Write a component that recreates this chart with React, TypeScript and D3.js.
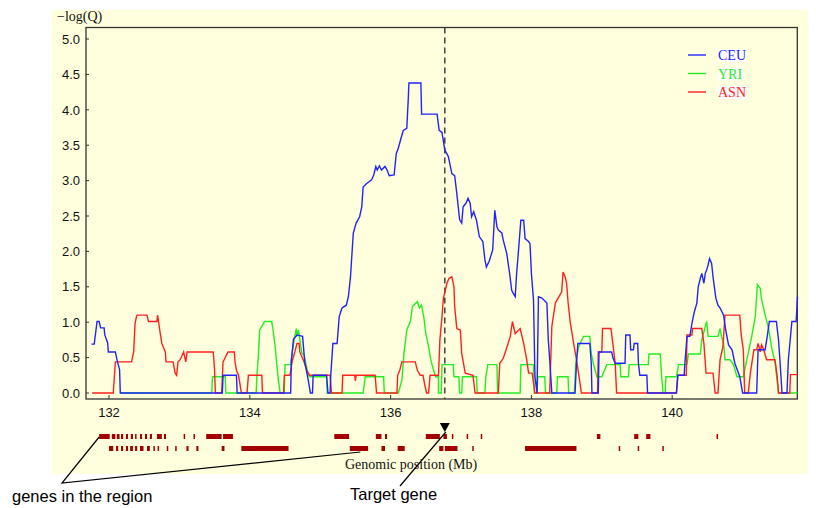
import * as d3 from 'd3';
import { useEffect, useRef } from 'react';

const WIDTH = 816;
const HEIGHT = 508;

const xTicks = [132, 134, 136, 138, 140];
const yTicks = [0, 0.5, 1, 1.5, 2, 2.5, 3, 3.5, 4, 4.5, 5];
const targetPos = 136.77;

// CEU (blue)
const ceu: [number, number][] = [
  [131.75, 0.69], [131.79, 0.69], [131.83, 1.01], [131.86, 1.01], [131.88, 0.92], [131.93, 0.92],
  [131.94, 0.82], [131.98, 0.71], [131.99, 0.58], [132.09, 0.58], [132.12, 0.44], [132.15, 0.33],
  [132.16, 0], [133.61, 0], [133.62, 0.25], [133.81, 0.25], [133.82, 0],
  [134.58, 0], [134.59, 0.45], [134.62, 0.76], [134.67, 0.82], [134.75, 0.8], [134.78, 0.44],
  [134.83, 0.18], [134.86, 0], [134.89, 0], [134.9, 0.25], [135.09, 0.25], [135.11, 0],
  [135.14, 0], [135.15, 0.25], [135.18, 0.7], [135.24, 0.7], [135.27, 1.08], [135.31, 1.2],
  [135.37, 1.24], [135.4, 1.36], [135.43, 1.64], [135.47, 2.26], [135.51, 2.4], [135.56, 2.49],
  [135.59, 2.63], [135.61, 2.91], [135.66, 2.96], [135.73, 3.01], [135.76, 3.08], [135.79, 3.2],
  [135.81, 3.15], [135.84, 3.21], [135.87, 3.15], [135.92, 3.2], [135.95, 3.15], [135.98, 3.07],
  [136.05, 3.08], [136.08, 3.38], [136.11, 3.46], [136.14, 3.57], [136.18, 3.71], [136.23, 3.74],
  [136.25, 4.14], [136.26, 4.38], [136.43, 4.38], [136.44, 3.94], [136.66, 3.94], [136.69, 3.71],
  [136.73, 3.68], [136.77, 3.43], [136.82, 3.34], [136.87, 3.1], [136.91, 3.07], [136.94, 2.82],
  [136.98, 2.45], [137.01, 2.4], [137.03, 2.63], [137.07, 2.68], [137.1, 2.75], [137.13, 2.68],
  [137.15, 2.49], [137.18, 2.56], [137.22, 2.44], [137.26, 2.21], [137.31, 2.14], [137.34, 1.88],
  [137.36, 1.78], [137.4, 1.86], [137.45, 2.02], [137.48, 2.58], [137.51, 2.35], [137.53, 2.3],
  [137.58, 2.26], [137.6, 2.16], [137.65, 1.97], [137.69, 1.69], [137.72, 1.45], [137.74, 1.41],
  [137.77, 1.36], [137.79, 1.69], [137.81, 1.93], [137.85, 2.44], [137.89, 2.44], [137.91, 2.18],
  [137.96, 2.14], [137.98, 2.11], [138.0, 1.69], [138.03, 1.31], [138.05, 0.23], [138.08, 0],
  [138.1, 1.36], [138.15, 1.34], [138.22, 1.27], [138.24, 0.75], [138.26, 0.47], [138.29, 0],
  [138.62, 0], [138.64, 0.42], [138.66, 0.7], [138.83, 0.7], [138.85, 0.42], [138.86, 0],
  [138.95, 0], [138.96, 0.58], [139.14, 0.58], [139.16, 0.49], [139.19, 0.42], [139.33, 0.42],
  [139.34, 0.82], [139.4, 0.82], [139.41, 0.61], [139.45, 0.61], [139.46, 0.7], [139.51, 0.7],
  [139.52, 0.42], [139.54, 0.25], [139.64, 0.25], [139.65, 0], [140.06, 0], [140.08, 0.25],
  [140.17, 0.25], [140.18, 0.42], [140.21, 0.8], [140.25, 0.8], [140.28, 0.98], [140.31, 1.13],
  [140.35, 1.27], [140.37, 1.5], [140.4, 1.62], [140.42, 1.69], [140.45, 1.55], [140.47, 1.69],
  [140.49, 1.74], [140.51, 1.81], [140.53, 1.9], [140.56, 1.83], [140.58, 1.64], [140.62, 1.34],
  [140.65, 1.24], [140.68, 1.2], [140.73, 1.1], [140.76, 0.89], [140.8, 0.68], [140.85, 0.61],
  [140.89, 0.42], [140.96, 0.23], [141.0, 0], [141.2, 0], [141.22, 0.61], [141.32, 0.61],
  [141.35, 0.8], [141.38, 1.01], [141.48, 1.01], [141.51, 0.75], [141.53, 0.47], [141.56, 0],
  [141.63, 0], [141.65, 0.47], [141.7, 1.01], [141.76, 1.01], [141.78, 1.36],
];

// YRI (green)
const yri: [number, number][] = [
  [132.16, 0], [133.46, 0], [133.47, 0.23], [133.65, 0.23], [133.66, 0],
  [134.09, 0], [134.1, 0.23], [134.12, 0.51], [134.14, 0.89], [134.17, 0.94], [134.21, 1.01],
  [134.31, 1.01], [134.33, 0.89], [134.36, 0.65], [134.38, 0.44], [134.4, 0.23], [134.43, 0],
  [134.49, 0], [134.5, 0.4], [134.58, 0.4], [134.6, 0.56], [134.63, 0.75], [134.66, 0.91],
  [134.67, 0.8], [134.69, 0.89], [134.74, 0.56], [134.77, 0.54], [134.8, 0.4], [134.83, 0.25],
  [134.86, 0.23], [135.09, 0.23], [135.1, 0], [135.61, 0], [135.64, 0.23], [135.9, 0.23],
  [135.91, 0], [136.11, 0], [136.16, 0.18], [136.19, 0.56], [136.23, 0.89], [136.28, 1.01],
  [136.31, 1.22], [136.38, 1.29], [136.41, 1.2], [136.44, 1.24], [136.47, 1.08], [136.5, 0.84],
  [136.54, 0.65], [136.57, 0.47], [136.61, 0.32], [136.64, 0.23], [136.68, 0.23], [136.68, 0],
  [136.72, 0], [136.73, 0.4], [136.89, 0.4], [136.9, 0.23], [136.97, 0.23], [136.98, 0],
  [137.01, 0], [137.02, 0.23], [137.22, 0.23], [137.23, 0], [137.34, 0], [137.35, 0.21],
  [137.38, 0.4], [137.51, 0.4], [137.52, 0], [137.84, 0], [137.85, 0.4], [138.03, 0.4],
  [138.04, 0], [138.08, 0], [138.09, 0.23], [138.19, 0.23], [138.2, 0], [138.36, 0],
  [138.37, 0.23], [138.52, 0.23], [138.53, 0], [138.61, 0], [138.63, 0.42], [138.67, 0.65],
  [138.74, 0.8], [138.83, 0.8], [138.85, 0.56], [138.88, 0.42], [138.93, 0.23], [139.0, 0.23],
  [139.07, 0.4], [139.26, 0.4], [139.27, 0.23], [139.38, 0.23], [139.39, 0.4], [139.66, 0.4],
  [139.67, 0.55], [139.83, 0.55], [139.85, 0.23], [139.87, 0], [139.9, 0], [139.91, 0.23],
  [140.06, 0.23], [140.09, 0.4], [140.21, 0.4], [140.23, 0.55], [140.4, 0.55], [140.42, 0.75],
  [140.47, 0.94], [140.49, 1.01], [140.51, 0.8], [140.65, 0.8], [140.68, 0.91], [140.7, 0.8],
  [140.73, 0.7], [140.75, 0.47], [140.82, 0.47], [140.87, 0.4], [140.92, 0.23], [141.01, 0.23],
  [141.06, 0.47], [141.13, 0.8], [141.18, 1.08], [141.21, 1.53], [141.25, 1.48], [141.27, 1.32],
  [141.32, 1.1], [141.37, 0.91], [141.41, 0.65], [141.46, 0.44], [141.51, 0], [141.78, 0],
];

// ASN (red)
const asn: [number, number][] = [
  [131.76, 0], [132.06, 0], [132.09, 0.44], [132.32, 0.44], [132.35, 0.58], [132.37, 0.98],
  [132.39, 1.08], [132.4, 1.1], [132.54, 1.1], [132.56, 1.01], [132.68, 1.01], [132.69, 1.1],
  [132.72, 0.89], [132.75, 0.7], [132.8, 0.58], [132.81, 0.44], [132.91, 0.44], [132.94, 0.28],
  [132.96, 0.25], [132.98, 0.44], [133.01, 0.47], [133.06, 0.58], [133.09, 0.44], [133.11, 0.58],
  [133.48, 0.58], [133.5, 0.32], [133.51, 0], [133.6, 0], [133.62, 0.44], [133.69, 0.58],
  [133.78, 0.58], [133.79, 0.44], [133.81, 0.32], [133.84, 0.25], [133.88, 0], [133.96, 0],
  [133.98, 0.25], [134.17, 0.25], [134.18, 0], [134.48, 0], [134.49, 0.25], [134.57, 0.25],
  [134.6, 0.44], [134.64, 0.58], [134.67, 0.7], [134.7, 0.7], [134.71, 0.58], [134.77, 0.44],
  [134.81, 0.32], [134.85, 0.25], [135.14, 0.25], [135.16, 0], [135.31, 0], [135.32, 0.25],
  [135.49, 0.25], [135.5, 0.17], [135.51, 0.25], [135.78, 0.25], [135.8, 0], [136.09, 0],
  [136.1, 0.25], [136.13, 0.32], [136.16, 0.44], [136.35, 0.44], [136.38, 0.32], [136.42, 0.25],
  [136.46, 0.25], [136.49, 0.09], [136.51, 0], [136.54, 0], [136.56, 0.25], [136.68, 0.25],
  [136.7, 0.75], [136.73, 1.08], [136.75, 1.34], [136.8, 1.55], [136.83, 1.62], [136.87, 1.64],
  [136.9, 1.5], [136.91, 1.22], [136.94, 0.91], [136.99, 0.89], [137.01, 0.56], [137.06, 0.28],
  [137.17, 0.25], [137.2, 0], [137.53, 0], [137.55, 0.42], [137.6, 0.49], [137.63, 0.58],
  [137.7, 0.8], [137.73, 1.01], [137.77, 0.84], [137.84, 0.91], [137.89, 0.7], [137.93, 0.49],
  [137.96, 0.28], [138.01, 0.28], [138.05, 0], [138.26, 0], [138.29, 0.94], [138.34, 1.27],
  [138.43, 1.43], [138.45, 1.71], [138.48, 1.64], [138.5, 1.55], [138.52, 1.29], [138.55, 1.01],
  [138.6, 0.7], [138.64, 0.47], [138.69, 0.14], [138.71, 0], [138.94, 0], [138.95, 0.58],
  [139.0, 0.58], [139.01, 0.91], [139.13, 0.91], [139.15, 0.75], [139.19, 0.42], [139.21, 0],
  [140.06, 0], [140.08, 0.25], [140.2, 0.25], [140.21, 0.82], [140.28, 0.82], [140.29, 0.91],
  [140.42, 0.91], [140.45, 0.7], [140.48, 0.28], [140.58, 0.28], [140.61, 0], [140.65, 0],
  [140.68, 0.47], [140.72, 0.65], [140.75, 1.1], [140.96, 1.1], [140.98, 0.82], [141.01, 0.61],
  [141.03, 0], [141.08, 0], [141.11, 0.28], [141.16, 0.61], [141.2, 0.61], [141.22, 0.7],
  [141.25, 0.58], [141.27, 0.68], [141.3, 0.61], [141.34, 0.47], [141.46, 0.47], [141.49, 0.25],
  [141.51, 0], [141.67, 0], [141.68, 0.26], [141.78, 0.26],
];

// gene blocks (start, end in Mb)
const genesRow1: [number, number][] = [
  [131.86, 132.01], [132.04, 132.09], [132.11, 132.15], [132.17, 132.2], [132.24, 132.27],
  [132.31, 132.34], [132.37, 132.39], [132.44, 132.47], [132.51, 132.54], [132.58, 132.61],
  [132.68, 132.75], [132.78, 132.81], [133.06, 133.08], [133.2, 133.22], [133.38, 133.6],
  [133.62, 133.76], [135.2, 135.41], [135.79, 135.87], [135.92, 135.95], [136.5, 136.7],
  [136.75, 136.8], [136.87, 136.88], [137.08, 137.1], [137.28, 137.3], [138.93, 138.98],
  [139.46, 139.52], [139.63, 139.69], [140.63, 140.65],
];
const genesRow2: [number, number][] = [
  [132.0, 132.06], [132.1, 132.13], [132.17, 132.2], [132.24, 132.27], [132.3, 132.34],
  [132.37, 132.4], [132.44, 132.49], [132.54, 132.58], [132.63, 132.65], [132.69, 132.71],
  [132.82, 132.84], [132.94, 132.96], [133.1, 133.13], [133.24, 133.27], [133.6, 133.64],
  [133.88, 134.55], [135.42, 135.68], [135.87, 135.92], [136.1, 136.2], [136.69, 136.75],
  [136.77, 136.95], [137.16, 137.17], [137.91, 138.64], [139.24, 139.26], [139.51, 139.53],
  [139.86, 139.87],
];

const series = [
  { name: 'YRI', color: '#22ee22', data: yri },
  { name: 'ASN', color: '#ff2020', data: asn },
  { name: 'CEU', color: '#2222ff', data: ceu },
];
const legendOrder = ['CEU', 'YRI', 'ASN'];

export default function App() {
  const svgRef = useRef<SVGSVGElement>(null);

  useEffect(() => {
    if (!svgRef.current) return;
    const svg = d3.select(svgRef.current);
    svg.selectAll('*').remove();

    const margin = { top: 27.5, left: 86, right: 18.7, bottom: 109 };
    const innerWidth = WIDTH - margin.left - margin.right;
    const innerHeight = HEIGHT - margin.top - margin.bottom;
    const serif = '"Liberation Serif", "Times New Roman", serif';
    const sans = '"Liberation Sans", Arial, sans-serif';

    const x = d3.scaleLinear().domain([131.673, 141.777]).range([margin.left, margin.left + innerWidth]);
    const y = d3.scaleLinear().domain([-0.085, 5.163]).range([margin.top + innerHeight, margin.top]);

    // cream panel
    svg.append('rect')
      .attr('x', 52).attr('y', 10)
      .attr('width', 756).attr('height', 464)
      .attr('fill', '#ffffdd');

    // frame
    svg.append('rect')
      .attr('x', margin.left).attr('y', margin.top)
      .attr('width', innerWidth).attr('height', innerHeight)
      .attr('fill', 'none')
      .attr('stroke', '#333')
      .attr('stroke-width', 1.3);

    // y ticks
    const yt = svg.append('g');
    yt.selectAll('line').data(yTicks).enter().append('line')
      .attr('x1', margin.left).attr('x2', margin.left + 3)
      .attr('y1', d => y(d)).attr('y2', d => y(d))
      .attr('stroke', '#333');
    yt.selectAll('text').data(yTicks).enter().append('text')
      .attr('x', 80).attr('y', d => y(d))
      .attr('dy', '0.36em')
      .attr('text-anchor', 'end')
      .style('font-family', sans).style('font-size', '13px')
      .attr('fill', '#111')
      .text(d => d3.format('.1f')(d));

    // x ticks
    const xt = svg.append('g');
    xt.selectAll('line').data(xTicks).enter().append('line')
      .attr('x1', d => x(d)).attr('x2', d => x(d))
      .attr('y1', margin.top + innerHeight).attr('y2', margin.top + innerHeight - 4)
      .attr('stroke', '#333');
    xt.selectAll('text').data(xTicks).enter().append('text')
      .attr('x', d => x(d)).attr('y', 417)
      .attr('text-anchor', 'middle')
      .style('font-family', sans).style('font-size', '13px')
      .attr('fill', '#111')
      .text(d => String(d));

    // y label
    svg.append('text')
      .attr('x', 57).attr('y', 21)
      .style('font-family', serif).style('font-size', '14px')
      .attr('fill', '#111')
      .text('\u2212log(Q)');

    // target gene dashed line
    svg.append('line')
      .attr('x1', x(targetPos)).attr('x2', x(targetPos))
      .attr('y1', margin.top).attr('y2', margin.top + innerHeight)
      .attr('stroke', '#333')
      .attr('stroke-width', 1.4)
      .attr('stroke-dasharray', '6,4');

    // series
    const line = d3.line<[number, number]>()
      .x(d => x(d[0]))
      .y(d => y(d[1]));
    series.forEach(s => {
      svg.append('path')
        .datum(s.data)
        .attr('d', line)
        .attr('fill', 'none')
        .attr('stroke', s.color)
        .attr('stroke-width', 1.4);
    });

    // legend
    const legend = svg.append('g');
    legendOrder.forEach((name, i) => {
      const s = series.find(d => d.name === name)!;
      const ly = 55 + i * 18.5;
      legend.append('line')
        .attr('x1', 688).attr('x2', 706)
        .attr('y1', ly).attr('y2', ly)
        .attr('stroke', s.color).attr('stroke-width', 1.4);
      const t = legend.append('text')
        .attr('x', 718).attr('y', ly + 5)
        .style('font-family', serif).style('font-size', '14px')
        .attr('fill', s.color)
        .text(name);
      const bb = (t.node() as SVGTextElement).getBBox();
      legend.insert('rect', 'text')
        .attr('x', bb.x).attr('y', bb.y + 1)
        .attr('width', bb.width).attr('height', bb.height - 2)
        .attr('fill', '#ffffff');
    });

    // gene track
    const geneColor = '#a30000';
    const drawRow = (rows: [number, number][], top: number) => {
      svg.append('g').selectAll('rect').data(rows).enter().append('rect')
        .attr('x', d => x(d[0]))
        .attr('y', top)
        .attr('width', d => Math.max(1.5, x(d[1]) - x(d[0])))
        .attr('height', 5)
        .attr('fill', geneColor);
    };
    drawRow(genesRow1, 434);
    drawRow(genesRow2, 446);

    // target marker
    const tx = x(targetPos);
    svg.append('path')
      .attr('d', `M${tx - 5},423 L${tx + 5},423 L${tx},432 Z`)
      .attr('fill', '#000');

    svg.append('text')
      .attr('x', 345).attr('y', 469)
      .style('font-family', serif).style('font-size', '14px')
      .attr('fill', '#111')
      .text('Genomic position (Mb)');

    // annotations
    const ann = svg.append('g').attr('stroke', '#000').attr('stroke-width', 1.2).attr('fill', 'none');
    ann.append('path')
      .attr('d', `M${x(genesRow1[0][0])},437 L62,483 L${x(135.57)},452`);
    ann.append('line')
      .attr('x1', 400).attr('y1', 486)
      .attr('x2', tx + 1).attr('y2', 432);

    svg.append('text')
      .attr('x', 12).attr('y', 502)
      .style('font-family', sans).style('font-size', '16.5px')
      .attr('fill', '#000')
      .text('genes in the region');
    svg.append('text')
      .attr('x', 350).attr('y', 500)
      .style('font-family', sans).style('font-size', '16.5px')
      .attr('fill', '#000')
      .text('Target gene');
  }, []);

  return (
    <div style={{ position: 'absolute', left: 0, top: 0 }}>
      <svg ref={svgRef} width={WIDTH} height={HEIGHT} style={{ display: 'block', background: '#fff' }} />
    </div>
  );
}
